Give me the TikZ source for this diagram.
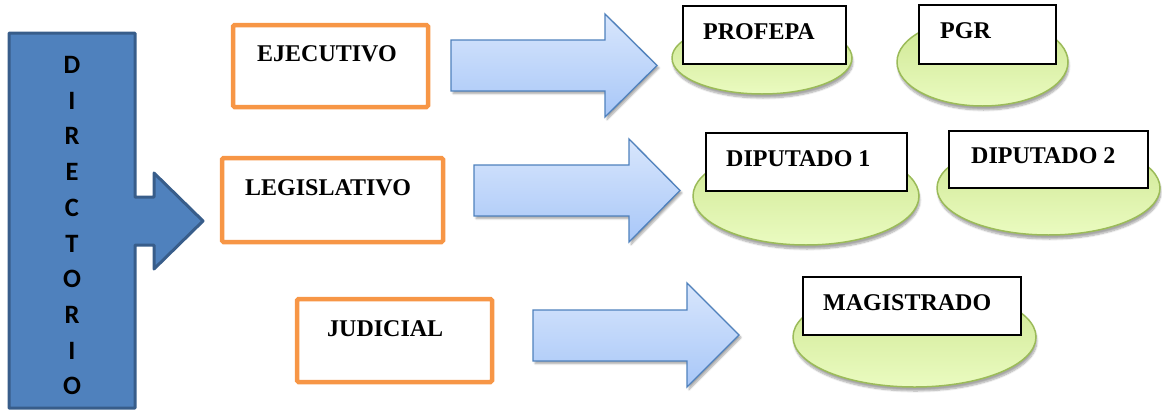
\documentclass[tikz,border=0pt]{standalone}
\usepackage{fontspec}
\setmainfont{Liberation Serif}
\newfontfamily\calibrifont{Carlito}
\usetikzlibrary{shapes.geometric,shadows.blur}
\definecolor{dirfill}{RGB}{79,129,189}
\definecolor{dirline}{RGB}{56,93,138}
\definecolor{orangeline}{RGB}{247,150,70}
\definecolor{arrtop}{RGB}{216,230,252}
\definecolor{arrbot}{RGB}{168,199,248}
\definecolor{arrline}{RGB}{79,129,189}
\definecolor{elltop}{RGB}{205,230,145}
\definecolor{ellbot}{RGB}{234,251,192}
\definecolor{ellline}{RGB}{155,187,89}
\tikzset{
  dirarrow/.style={fill=dirfill,draw=dirline,line width=3pt,line join=round},
  dirletter/.style={font=\calibrifont\bfseries\fontsize{26.5}{26.5}\selectfont,inner sep=0pt,anchor=center},
  obox/.style={draw=orangeline,line width=4.5pt,rounded corners=1.5pt,fill=white,inner sep=0pt},
  lightarrow/.style={top color=arrtop,bottom color=arrbot,draw=arrline,line width=1.3pt,line join=miter,
     blur shadow={shadow xshift=2pt,shadow yshift=-2.5pt,shadow opacity=35,shadow blur steps=6}},
  ell/.style={ellipse,inner sep=0pt,top color=elltop,bottom color=ellbot,draw=ellline,line width=1.5pt,
     blur shadow={shadow xshift=1pt,shadow yshift=-4pt,shadow opacity=35,shadow blur steps=8}},
  wbox/.style={draw=black,line width=1.8pt,fill=white,inner sep=0pt},
  lbl/.style={font=\bfseries\fontsize{24}{24}\selectfont,inner sep=0pt,anchor=base west}
}
\begin{document}
\begin{tikzpicture}[x=1pt,y=-1pt]
\useasboundingbox (0,0) rectangle (1162,410);
% big directorio arrow
\draw[dirarrow] (9,33) -- (135,33) -- (135,197) -- (154,197) -- (154,173) -- (203,221)
  -- (154,269) -- (154,245) -- (135,245) -- (135,408) -- (9,408) -- cycle;
\foreach \l [count=\i from 0] in {D,I,R,E,C,T,O,R,I,O}
  \node[dirletter] (d\i) at (72,65+35.7*\i) {\l};
% orange boxes
\node[obox,minimum width=195pt,minimum height=82pt] (ejbox) at (330.5,66) {};
\node[lbl] (ej) at (257,61) {EJECUTIVO};
\node[obox,minimum width=221pt,minimum height=84pt] (lgbox) at (332.5,200) {};
\node[lbl] (lg) at (245,195) {LEGISLATIVO};
\node[obox,minimum width=195pt,minimum height=83pt] (jdbox) at (394.5,340.5) {};
\node[lbl] (jd) at (327,336) {JUDICIAL};
% light arrows
\draw[lightarrow] (451,40) -- (605,40) -- (605,14) -- (657,65.5) -- (605,117) -- (605,91) -- (451,91) -- cycle;
\draw[lightarrow] (474,165) -- (629,165) -- (629,139) -- (680,190.5) -- (629,242) -- (629,216) -- (474,216) -- cycle;
\draw[lightarrow] (533,310) -- (687,310) -- (687,283) -- (739,335) -- (687,387) -- (687,361) -- (533,361) -- cycle;
% ellipses
\node[ell,minimum width=180pt,minimum height=72pt] (e1) at (762,58) {};
\node[ell,minimum width=171pt,minimum height=88pt] (e2) at (982.5,62) {};
\node[ell,minimum width=226pt,minimum height=98pt] (e3) at (806,196) {};
\node[ell,minimum width=223pt,minimum height=94pt] (e4) at (1048.5,188) {};
\node[ell,minimum width=243pt,minimum height=100pt] (e5) at (914.5,337) {};
% white boxes
\node[wbox,minimum width=163pt,minimum height=58pt] (b1) at (764.5,35) {};
\node[lbl] (t1) at (703,39) {PROFEPA};
\node[wbox,minimum width=137pt,minimum height=59pt] (b2) at (987.5,34.5) {};
\node[lbl] (t2) at (940,38) {PGR};
\node[wbox,minimum width=201pt,minimum height=58pt] (b3) at (806.5,162) {};
\node[lbl] (t3) at (726,166) {DIPUTADO 1};
\node[wbox,minimum width=199pt,minimum height=57pt] (b4) at (1048.5,159.5) {};
\node[lbl] (t4) at (971,163) {DIPUTADO 2};
\node[wbox,minimum width=218pt,minimum height=58pt] (b5) at (912,306) {};
\node[lbl] (t5) at (823,310) {MAGISTRADO};
\end{tikzpicture}
\end{document}
